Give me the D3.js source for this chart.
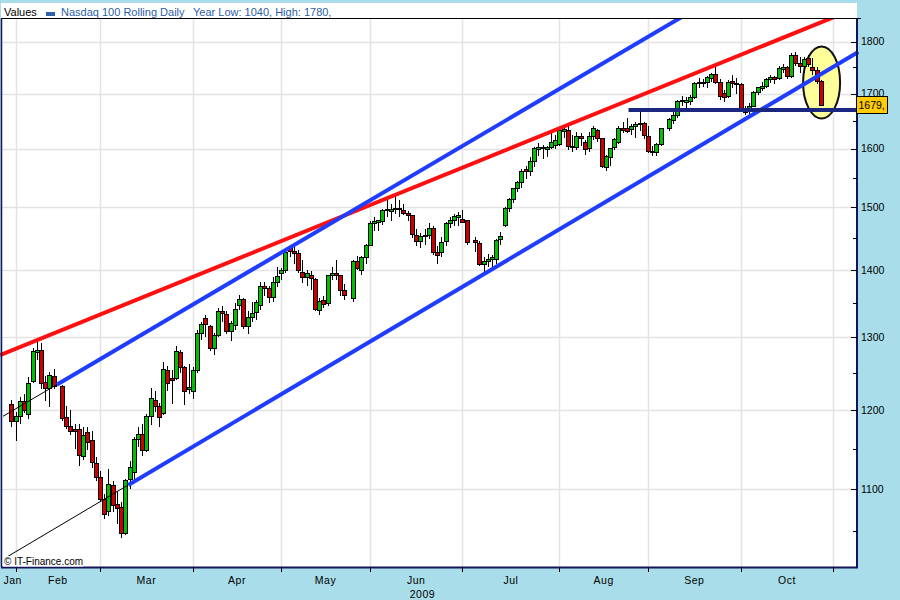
<!DOCTYPE html>
<html><head><meta charset="utf-8">
<script src="https://cdn.jsdelivr.net/npm/d3@7"></script>
<style>
body{margin:0;background:#a9dde9;}
svg{display:block;}
text{font-family:"Liberation Sans",Arial,sans-serif;}
</style>
</head><body>
<svg id="c" width="900" height="600"></svg>
<script>
// ---------------- DATA ----------------
const year = 2009;
const monthNums = [1,2,3,4,5,6,7,8,9,10];
const tradingDays = [
 [30],
 [2,3,4,5,6,9,10,11,12,13,17,18,19,20,23,24,25,26,27],
 [2,3,4,5,6,9,10,11,12,13,16,17,18,19,20,23,24,25,26,27,30,31],
 [1,2,3,6,7,8,9,13,14,15,16,17,20,21,22,23,24,27,28,29,30],
 [1,4,5,6,7,8,11,12,13,14,15,18,19,20,21,22,26,27,28,29],
 [1,2,3,4,5,8,9,10,11,12,15,16,17,18,19,22,23,24,25,26,29,30],
 [1,2,6,7,8,9,10,13,14,15,16,17,20,21,22,23,24,27,28,29,30,31],
 [3,4,5,6,7,10,11,12,13,14,17,18,19,20,21,24,25,26,27,28,31],
 [1,2,3,4,8,9,10,11,14,15,16,17,18,21,22,23,24,25,28,29,30],
 [1,2,5,6,7,8,9,12,13,14,15,16,19,20,21,22,23,26,27,28]
];
// days without a slot on the time axis
const axisClosedDays = ["2009-04-10"];

const opens = [
 1207,
 1185,1191,1212,1194,1239,1278,1282,1237,1229,1245,1231,1190,1178,1175,1175,1140,1171,1161,1132,
 1114,1088,1073,1104,1082,1078,1048,1112,1120,1162,1168,1148,1191,1213,1205,1196,1254,1243,1242,1278,1258,1228,
 1225,1253,1305,1328,1316,1284,1303,1337,1333,1309,1317,1347,1355,1316,1329,1336,1347,1375,1372,1358,1381,
 1395,1400,1434,1429,1426,1397,1389,1391,1386,1339,1354,1350,1391,1395,1391,1369,1357,1414,1400,1419,
 1439,1473,1476,1477,1496,1493,1497,1498,1495,1490,1486,1455,1444,1455,1454,1466,1428,1427,1444,1473,1478,1484,
 1481,1478,1447,1441,1408,1413,1416,1417,1448,1470,1499,1513,1531,1541,1564,1561,1577,1598,1600,1598,1603,1606,
 1607,1630,1632,1605,1603,1621,1612,1600,1621,1632,1619,1567,1585,1602,1612,1636,1636,1634,1639,1643,1645,
 1621,1596,1594,1607,1636,1650,1660,1685,1683,1686,1694,1719,1720,1721,1728,1736,1722,1700,1695,1723,1720,
 1718,1672,1668,1677,1702,1710,1714,1727,1730,1728,1747,1750,1733,1774,1758,1751,1767,1750,1744,1724
];
const highs = [
 1214,
 1198,1218,1222,1245,1285,1295,1292,1246,1252,1256,1234,1206,1200,1182,1182,1178,1178,1172,1140,
 1122,1094,1125,1110,1098,1085,1112,1135,1165,1178,1182,1195,1229,1225,1210,1265,1260,1254,1288,1282,1260,1262,
 1258,1310,1322,1332,1318,1306,1342,1345,1338,1324,1350,1362,1358,1338,1352,1355,1382,1382,1376,1390,1405,
 1403,1430,1440,1442,1432,1415,1400,1398,1388,1358,1360,1393,1405,1415,1393,1378,1416,1422,1422,1441,
 1478,1485,1480,1498,1512,1505,1519,1512,1505,1494,1487,1465,1458,1465,1475,1470,1438,1452,1476,1485,1490,1492,
 1496,1480,1452,1446,1420,1425,1424,1448,1460,1500,1515,1533,1545,1565,1570,1585,1603,1610,1606,1605,1628,1624,
 1635,1640,1642,1625,1630,1628,1615,1630,1640,1636,1620,1590,1602,1620,1640,1648,1655,1645,1648,1668,1648,
 1640,1605,1610,1638,1655,1668,1688,1695,1694,1698,1722,1730,1728,1734,1740,1752,1728,1708,1726,1735,1730,
 1720,1678,1682,1705,1712,1722,1730,1735,1734,1752,1756,1752,1778,1780,1770,1770,1775,1768,1750,1726
];
const lows = [
 1178,
 1160,1182,1196,1188,1236,1268,1228,1212,1204,1228,1186,1175,1168,1150,1128,1136,1148,1126,1110,
 1084,1064,1068,1072,1058,1042,1046,1100,1108,1152,1141,1146,1180,1198,1178,1194,1225,1208,1240,1250,1207,1222,
 1215,1250,1296,1300,1280,1275,1300,1322,1305,1295,1310,1340,1312,1305,1322,1325,1340,1360,1350,1352,1374,
 1385,1396,1420,1410,1395,1380,1375,1370,1338,1332,1342,1346,1385,1385,1360,1355,1352,1400,1392,1410,
 1437,1462,1462,1472,1485,1478,1490,1485,1487,1478,1450,1437,1434,1440,1448,1424,1410,1420,1438,1466,1470,1470,
 1474,1440,1428,1407,1397,1405,1405,1410,1440,1468,1492,1508,1525,1533,1548,1552,1568,1588,1583,1586,1600,1600,
 1605,1620,1598,1595,1598,1605,1590,1595,1615,1612,1566,1562,1570,1598,1608,1628,1628,1625,1620,1632,1618,
 1592,1588,1588,1605,1632,1645,1655,1678,1668,1680,1690,1710,1712,1710,1722,1718,1688,1685,1692,1710,1700,
 1670,1660,1660,1675,1698,1706,1710,1720,1718,1726,1740,1728,1730,1752,1740,1740,1750,1735,1718,1677
];
const closes = [
 1185,
 1191,1212,1199,1236,1280,1281,1236,1229,1247,1231,1189,1178,1172,1172,1141,1167,1158,1133,1114,
 1088,1070,1106,1080,1077,1048,1110,1127,1162,1168,1148,1192,1216,1205,1190,1255,1236,1240,1280,1258,1225,1230,
 1254,1305,1318,1318,1284,1303,1337,1334,1309,1320,1340,1355,1316,1329,1334,1351,1375,1372,1358,1381,1390,
 1400,1427,1429,1426,1400,1389,1394,1387,1340,1353,1348,1391,1395,1391,1369,1362,1414,1403,1419,1439,
 1473,1477,1478,1495,1495,1497,1499,1496,1490,1486,1456,1444,1452,1452,1465,1428,1423,1443,1473,1479,1485,1486,
 1476,1443,1443,1409,1414,1416,1419,1447,1452,1499,1513,1531,1541,1561,1561,1577,1600,1602,1603,1602,1612,1614,
 1632,1634,1605,1603,1621,1618,1598,1621,1636,1619,1570,1587,1600,1616,1636,1632,1630,1640,1643,1645,1623,
 1596,1594,1607,1636,1652,1660,1685,1687,1688,1694,1719,1721,1722,1730,1736,1722,1695,1693,1722,1720,1717,
 1672,1666,1677,1702,1711,1714,1727,1730,1727,1748,1750,1733,1774,1758,1752,1765,1755,1744,1724,1679
];

// y axis ticks
const yMajor = [1100,1200,1300,1400,1500,1600,1700,1800];
const yMinor = [1050,1150,1250,1350,1450,1550,1650,1750];
// x axis: first day of each month slot and labels
const monthTickDates = ["2009-02-02","2009-03-02","2009-04-01","2009-05-01","2009-06-01","2009-07-01","2009-08-03","2009-09-01","2009-10-01","2009-11-02"];
const monthLabels = ["Jan","Feb","Mar","Apr","May","Jun","Jul","Aug","Sep","Oct"];

// drawn annotations (slot index on time axis, price)
const redLine = [[-3.25, 1276], [191, 1839]];
const upperChannel = [[9.73, 1234], [138.7, 1755]];
const lowerChannel = [[26.72, 1105], [199.9, 1780]];
const supportLine = [[145.4, 1670], [199.6, 1670]];
const ellipseCenter = [191.2, 1721.5];
const lastValueLabel = "1679,";
const legendTitle = "Values";
const seriesName = "Nasdaq 100 Rolling Daily";
const yearInfo = "Year Low: 1040, High: 1780,";

// ---------------- BUILD ----------------
const parse = d3.timeParse("%Y-%m-%d");
const fmt = d3.timeFormat("%Y-%m-%d");
const origin = parse("2009-02-02");
const closedSet = new Set(axisClosedDays);
const isWeekday = t => t.getDay() !== 0 && t.getDay() !== 6;
function slotOf(d){
  if (d >= origin) return d3.timeDay.range(origin, d).filter(t => isWeekday(t) && !closedSet.has(fmt(t))).length;
  return -d3.timeDay.range(d, origin).filter(t => isWeekday(t) && !closedSet.has(fmt(t))).length;
}
const candles = [];
monthNums.forEach((m, mi) => {
  tradingDays[mi].forEach(day => {
    const date = new Date(year, m - 1, day);
    candles.push({date, s: slotOf(date)});
  });
});
candles.forEach((c, i) => { c.o = opens[i]; c.h = highs[i]; c.l = lows[i]; c.c = closes[i]; });

const W = 900, H = 600;
const P = {l: 2, r: 857, t: 18, b: 567};
const x = d3.scaleLinear().domain([-3.25, 199.6]).range([P.l, P.r]);
const y = d3.scaleLog().domain([1009.5, 1848]).range([P.b, P.t]);

const svg = d3.select("#c");
svg.append("rect").attr("width", W).attr("height", H).attr("fill", "#a9dde9");
svg.append("rect").attr("x", 1).attr("y", 3).attr("width", P.r - 1).attr("height", P.b - 3).attr("fill", "#ffffff");

// gridlines
const grid = svg.append("g").attr("stroke", "#e3e3e3").attr("stroke-width", 1.5);
yMajor.forEach(v => {
  const yy = Math.round(y(v)) + 0.5;
  grid.append("line").attr("x1", P.l).attr("x2", P.r).attr("y1", yy).attr("y2", yy);
});
const tickSlots = monthTickDates.map(d => slotOf(parse(d)));
tickSlots.forEach(s => {
  const xx = Math.round(x(s)) + 0.5;
  grid.append("line").attr("x1", xx).attr("x2", xx).attr("y1", P.t).attr("y2", P.b);
});

// highlight ellipse
svg.append("ellipse").attr("cx", x(ellipseCenter[0])).attr("cy", y(ellipseCenter[1]))
  .attr("rx", 18.5).attr("ry", 36).attr("fill", "#ffff99").attr("stroke", "#111").attr("stroke-width", 2);

// candles
const cg = svg.append("g").attr("shape-rendering", "crispEdges");
cg.selectAll("line").data(candles).join("line")
  .attr("x1", d => Math.round(x(d.s)) + 0.5).attr("x2", d => Math.round(x(d.s)) + 0.5)
  .attr("y1", d => y(d.h)).attr("y2", d => y(d.l))
  .attr("stroke", "#000").attr("stroke-width", 1);
cg.selectAll("rect").data(candles).join("rect")
  .attr("x", d => Math.round(x(d.s)) - 1.5)
  .attr("width", 4)
  .attr("y", d => y(Math.max(d.o, d.c)))
  .attr("height", d => Math.max(1, Math.abs(y(d.o) - y(d.c))))
  .attr("fill", d => d.c >= d.o ? "#00c000" : "#cc0000")
  .attr("stroke", "#000").attr("stroke-width", 1);

// trend lines
svg.append("clipPath").attr("id", "pc").append("rect").attr("x", 0).attr("y", P.t).attr("width", P.r + 3).attr("height", P.b - P.t);
const lg = svg.append("g").attr("clip-path", "url(#pc)");
function px(p){ return [x(p[0]), y(p[1])]; }
function ext(p1, p2, t0, t1){
  const a = px(p1), b = px(p2);
  return [[a[0] + (b[0]-a[0])*t0, a[1] + (b[1]-a[1])*t0], [a[0] + (b[0]-a[0])*t1, a[1] + (b[1]-a[1])*t1]];
}
function tAtX(p1, p2, xx){ const a = px(p1), b = px(p2); return (xx - a[0]) / (b[0] - a[0]); }
function drawSeg(pts, color, w){
  lg.append("line").attr("x1", pts[0][0]).attr("y1", pts[0][1]).attr("x2", pts[1][0]).attr("y2", pts[1][1])
    .attr("stroke", color).attr("stroke-width", w);
}
// thin extensions
drawSeg(ext(upperChannel[0], upperChannel[1], tAtX(upperChannel[0], upperChannel[1], 3), 0), "#000", 1);
drawSeg(ext(lowerChannel[0], lowerChannel[1], tAtX(lowerChannel[0], lowerChannel[1], 3), 0), "#000", 1);
// thick lines
drawSeg(ext(redLine[0], redLine[1], tAtX(redLine[0], redLine[1], 0), 1.3), "#ff1010", 4);
drawSeg(ext(upperChannel[0], upperChannel[1], 0, 1.6), "#1f3dff", 4);
drawSeg(ext(lowerChannel[0], lowerChannel[1], 0, 1), "#1f3dff", 4);
drawSeg(ext(supportLine[0], supportLine[1], 0, 1), "#1a2680", 4);

// borders
const bd = svg.append("g").attr("stroke", "#14145a");
bd.append("line").attr("x1", 1.5).attr("x2", 1.5).attr("y1", P.t).attr("y2", P.b).attr("stroke-width", 1.5);
bd.append("line").attr("x1", 1).attr("x2", P.r + 1).attr("y1", P.b + 0.5).attr("y2", P.b + 0.5).attr("stroke-width", 2);
bd.append("line").attr("x1", P.r).attr("x2", P.r).attr("y1", P.t).attr("y2", P.b + 1).attr("stroke-width", 2);
svg.append("line").attr("x1", 2).attr("x2", 861).attr("y1", 18.5).attr("y2", 18.5).attr("stroke", "#000").attr("stroke-width", 1);

// y ticks and labels
const yt = svg.append("g").attr("stroke", "#000").attr("stroke-width", 1);
yMajor.forEach(v => { const yy = Math.round(y(v)) + 0.5; yt.append("line").attr("x1", P.r - 6).attr("x2", P.r).attr("y1", yy).attr("y2", yy); });
yMinor.forEach(v => { const yy = Math.round(y(v)) + 0.5; yt.append("line").attr("x1", P.r - 4).attr("x2", P.r).attr("y1", yy).attr("y2", yy); });
svg.append("g").selectAll("text").data(yMajor).join("text")
  .attr("x", 861).attr("y", d => y(d) + 3.5).attr("font-size", 10.5).attr("fill", "#000").text(d => d);

// x ticks and month labels
const xt = svg.append("g").attr("stroke", "#000").attr("stroke-width", 1);
tickSlots.forEach(s => { const xx = Math.round(x(s)) + 0.5; xt.append("line").attr("x1", xx).attr("x2", xx).attr("y1", P.b + 1).attr("y2", P.b + 5); });
const labelX = monthLabels.map((m, i) => i === 0 ? null : (x(tickSlots[i-1]) + x(tickSlots[i])) / 2);
svg.append("g").selectAll("text").data(monthLabels).join("text")
  .attr("x", (d, i) => i === 0 ? 3.5 : labelX[i])
  .attr("text-anchor", (d, i) => i === 0 ? "start" : "middle")
  .attr("y", 584).attr("font-size", 10.5).attr("letter-spacing", 0.5).attr("fill", "#000").text(d => d);
svg.append("text").attr("x", (x(candles[0].s) + x(tickSlots[tickSlots.length-1])) / 2).attr("y", 598)
  .attr("text-anchor", "middle").attr("font-size", 10.5).attr("letter-spacing", 0.5).text(year);

// header legend
svg.append("text").attr("x", 4).attr("y", 16).attr("font-size", 11).attr("fill", "#000").text(legendTitle);
svg.append("rect").attr("x", 46).attr("y", 12).attr("width", 9).attr("height", 4).attr("fill", "#2f5fa6");
svg.append("text").attr("x", 61).attr("y", 16).attr("font-size", 11).attr("fill", "#2b5ea8").text(seriesName);
svg.append("text").attr("x", 193).attr("y", 16).attr("font-size", 11).attr("fill", "#2b5ea8").text(yearInfo);

// copyright
svg.append("rect").attr("x", 3).attr("y", 556).attr("width", 80).attr("height", 10.5).attr("fill", "#fff");
svg.append("text").attr("x", 4).attr("y", 565).attr("font-size", 10).attr("fill", "#000").text("\u00A9 IT-Finance.com");

// last value label
const last = candles[candles.length - 1];
const ly = y(last.c);
svg.append("rect").attr("x", 856.5).attr("y", Math.round(ly) - 8.5).attr("width", 31).attr("height", 17)
  .attr("fill", "#ffcc00").attr("stroke", "#000").attr("stroke-width", 1);
svg.append("text").attr("x", 858.5).attr("y", ly + 4).attr("font-size", 10.5).attr("fill", "#000").text(lastValueLabel);
</script>
</body></html>
